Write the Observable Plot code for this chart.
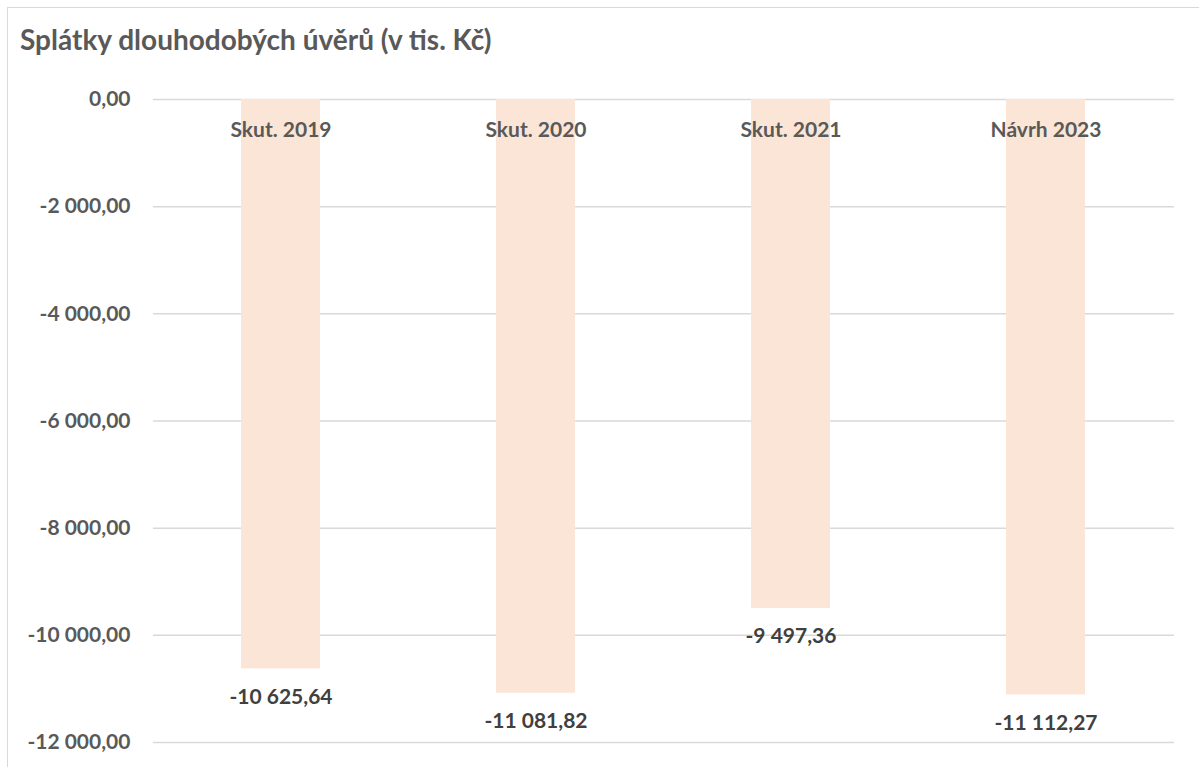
<!DOCTYPE html>
<html>
<head>
<meta charset="utf-8">
<script src="https://cdn.jsdelivr.net/npm/d3@7"></script>
<script src="https://cdn.jsdelivr.net/npm/@observablehq/plot@0.6"></script>
<style>
  body { margin: 0; background: #fff; font-family: Lato, "Open Sans", sans-serif; }
  #wrap { position: relative; width: 1199px; height: 767px; overflow: hidden; }
  #frame { position: absolute; left: 7px; top: 7px; width: 1200px; height: 800px;
           border-left: 1.5px solid #d9d9d9; border-top: 1.5px solid #d9d9d9; box-sizing: border-box; }
  #title { position: relative; height: 70px; box-sizing: border-box; padding: 24px 0 0 20px;
           font: bold 28px/30px Lato, sans-serif; color: #595959; white-space: nowrap; }
  #chart { position: relative; }
</style>
</head>
<body>
<div id="wrap">
  <div id="frame"></div>
  <div id="title">Splátky dlouhodobých úvěrů (v tis. Kč)</div>
  <div id="chart"></div>
</div>
<script>
const categories = ["Skut. 2019", "Skut. 2020", "Skut. 2021", "Návrh 2023"];
const values = [-10625.64, -11081.82, -9497.36, -11112.27];
const yTicks = [0, -2000, -4000, -6000, -8000, -10000, -12000];

const data = categories.map((c, i) => ({category: c, value: values[i]}));

const locale = d3.formatLocale({decimal: ",", thousands: " ", grouping: [3], currency: ["", ""], minus: "-"});
const fmt = locale.format(",.2f");

const plot = Plot.plot({
  width: 1199,
  height: 697,
  marginTop: 29,
  marginBottom: 25,
  marginLeft: 153,
  marginRight: 25,
  style: {fontFamily: "Lato, sans-serif", background: "transparent"},
  x: {domain: categories, paddingInner: 0.69, paddingOuter: 0.345, axis: null},
  y: {domain: [-12000, 0], axis: null},
  marks: [
    Plot.ruleY(yTicks, {stroke: "#d9d9d9", strokeWidth: 1.5}),
    Plot.barY(data, {x: "category", y: "value", fill: "#fbe5d6"}),
    Plot.axisY({ticks: yTicks, tickFormat: fmt, tickSize: 0, tickPadding: 23,
      fontSize: 21, fontWeight: "bold", fill: "#595959", label: null, stroke: null}),
    Plot.text(data, {x: "category", y: () => 0, text: "category", dy: 31,
      fontSize: 21, fontWeight: "bold", fill: "#595959"}),
    Plot.text(data, {x: "category", y: "value", text: d => fmt(d.value), dy: 28,
      fontSize: 21, fontWeight: "bold", fill: "#404040"})
  ]
});
document.getElementById("chart").appendChild(plot);
</script>
</body>
</html>
